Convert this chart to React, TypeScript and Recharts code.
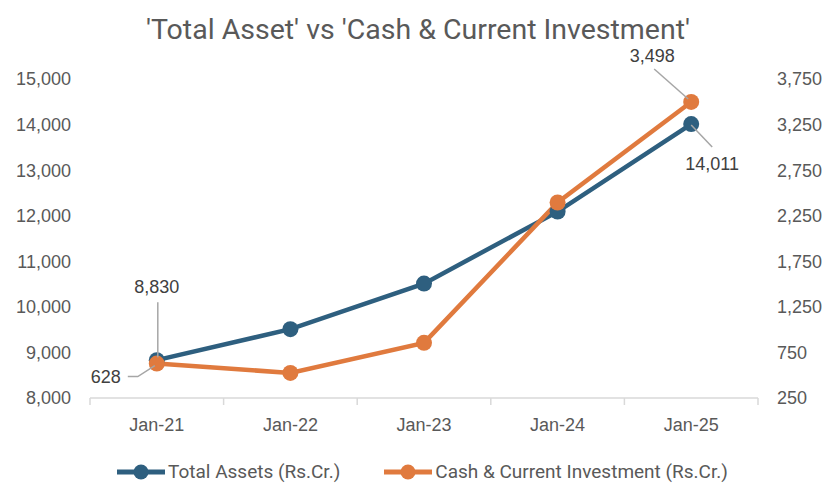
import React from 'react';
import { LineChart, Line, XAxis, YAxis, Legend, LabelList } from 'recharts';

const periods = ['Jan-21', 'Jan-22', 'Jan-23', 'Jan-24', 'Jan-25'];
const totalAssets = [8830, 9510, 10510, 12090, 14011];
const cashInvestment = [628, 525, 855, 2395, 3498];
const assetTicks = [8000, 9000, 10000, 11000, 12000, 13000, 14000, 15000];
const cashTicks = [250, 750, 1250, 1750, 2250, 2750, 3250, 3750];

const data = periods.map((period, i) => ({
  period,
  assets: totalAssets[i],
  cash: cashInvestment[i],
}));

const BLUE = '#2E5F7F';
const ORANGE = '#E07A3E';
const GRID = '#D9D9D9';
const AXIS_TEXT = '#595959';
const LABEL_TEXT = '#404040';
const LEADER = '#A6A6A6';
const NUM_FONT = "'Liberation Sans', Arial, sans-serif";
const TEXT_FONT = "'Roboto', sans-serif";

const fmt = (v: number) => v.toLocaleString('en-US');

// callout placement per point index: text offset + leader polyline, relative to the dot
type Callout = { tx: number; ty: number; anchor: 'start' | 'middle' | 'end'; path: [number, number][] };

const assetCallouts: Record<number, Callout> = {
  0: { tx: 0, ty: -73, anchor: 'middle', path: [[1, -58], [1, -3]] },
  4: { tx: 21, ty: 40, anchor: 'middle', path: [[0, 1], [21, 23]] },
};
const cashCallouts: Record<number, Callout> = {
  0: { tx: -36, ty: 13, anchor: 'end', path: [[-29, 13], [-19, 13], [-2, 2]] },
  4: { tx: -39, ty: -46, anchor: 'middle', path: [[-37, -33], [-3, -3]] },
};

const makeCallout = (callouts: Record<number, Callout>) => (props: any) => {
  const { x, y, value, index } = props;
  const c = callouts[index];
  if (!c || x == null || y == null) return null;
  const pts = c.path.map(([dx, dy]) => `${x + dx},${y + dy}`).join(' ');
  return (
    <g>
      <polyline points={pts} fill="none" stroke={LEADER} strokeWidth={1.5} />
      <text
        x={x + c.tx}
        y={y + c.ty}
        textAnchor={c.anchor}
        dominantBaseline="central"
        fontFamily={NUM_FONT}
        fontSize={18}
        fill={LABEL_TEXT}
      >
        {fmt(value)}
      </text>
    </g>
  );
};

// category label plus small separator ticks on band edges
const PeriodTick = (props: any) => {
  const { x, y, payload, index, visibleTicksCount } = props;
  const half = payload?.offset ?? 0;
  const last = index === visibleTicksCount - 1;
  return (
    <g>
      <line x1={x - half} x2={x - half} y1={y} y2={y + 7} stroke={GRID} strokeWidth={1.5} />
      {last && <line x1={x + half} x2={x + half} y1={y} y2={y + 7} stroke={GRID} strokeWidth={1.5} />}
      <text x={x} y={y + 27} textAnchor="middle" dominantBaseline="central" fontFamily={NUM_FONT} fontSize={18} fill={AXIS_TEXT}>
        {payload.value}
      </text>
    </g>
  );
};

const legendItems = [
  { name: 'Total Assets (Rs.Cr.)', color: BLUE },
  { name: 'Cash & Current Investment (Rs.Cr.)', color: ORANGE },
];

const LegendContent = () => (
  <div style={{ display: 'flex', alignItems: 'center', paddingLeft: 117, gap: 44, fontFamily: TEXT_FONT, fontSize: 19, color: AXIS_TEXT, lineHeight: '26px' }}>
    {legendItems.map((it) => (
      <div key={it.name} style={{ display: 'flex', alignItems: 'center' }}>
        <svg width={48} height={18}>
          <line x1={0} x2={48} y1={9} y2={9} stroke={it.color} strokeWidth={5} />
          <circle cx={24} cy={9} r={7.5} fill={it.color} />
        </svg>
        <span style={{ marginLeft: 3 }}>{it.name}</span>
      </div>
    ))}
  </div>
);

export default function App() {
  return (
    <div style={{ position: 'absolute', left: 0, top: 0, width: 838, height: 500, background: '#fff' }}>
      <LineChart width={838} height={500} data={data} margin={{ top: 79, right: 0, bottom: 72, left: 0 }}>
        <text x={418} y={39} textAnchor="middle" fontFamily={TEXT_FONT} fontSize={28.5} fill={AXIS_TEXT}>
          'Total Asset' vs 'Cash &amp; Current Investment'
        </text>
        <XAxis
          dataKey="period"
          scale="band"
          height={30}
          axisLine={{ stroke: GRID, strokeWidth: 1.5 }}
          tickLine={false}
          tickSize={0}
          tickMargin={0}
          tick={<PeriodTick />}
          interval={0}
        />
        <YAxis
          yAxisId="assets"
          orientation="left"
          width={90}
          domain={[8000, 15000]}
          ticks={assetTicks}
          axisLine={false}
          tickLine={false}
          tickMargin={13}
          tickFormatter={fmt}
          tick={{ fontFamily: NUM_FONT, fontSize: 18, fill: AXIS_TEXT }}
        />
        <YAxis
          yAxisId="cash"
          orientation="right"
          width={80}
          domain={[250, 3750]}
          ticks={cashTicks}
          axisLine={false}
          tickLine={false}
          tickMargin={13}
          tickFormatter={fmt}
          tick={{ fontFamily: NUM_FONT, fontSize: 18, fill: AXIS_TEXT, textAnchor: 'start' }}
        />
        <Legend
          verticalAlign="middle"
          align="center"
          layout="horizontal"
          wrapperStyle={{ top: 459, left: 0, width: 838 }}
          content={<LegendContent />}
        />
        <Line
          yAxisId="assets"
          dataKey="assets"
          stroke={BLUE}
          strokeWidth={4.5}
          dot={{ r: 8, fill: BLUE, stroke: BLUE, strokeWidth: 0 }}
          activeDot={false}
          isAnimationActive={false}
        >
          <LabelList dataKey="assets" content={makeCallout(assetCallouts)} />
        </Line>
        <Line
          yAxisId="cash"
          dataKey="cash"
          stroke={ORANGE}
          strokeWidth={4.5}
          dot={{ r: 8, fill: ORANGE, stroke: ORANGE, strokeWidth: 0 }}
          activeDot={false}
          isAnimationActive={false}
        >
          <LabelList dataKey="cash" content={makeCallout(cashCallouts)} />
        </Line>
      </LineChart>
    </div>
  );
}
